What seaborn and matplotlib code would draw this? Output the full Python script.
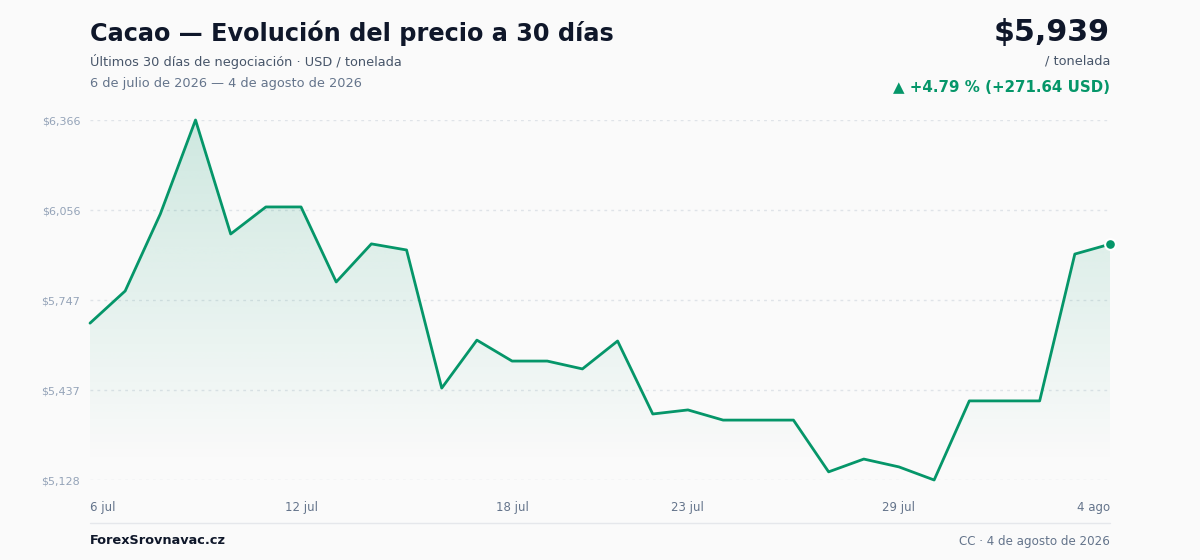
import numpy as np
import pandas as pd
import matplotlib
matplotlib.use("Agg")
import matplotlib.pyplot as plt
import seaborn as sns

# data (USD / tonelada, daily closes)
dates = pd.date_range("2026-07-06", "2026-08-04", freq="D")
prices = [5667.36, 5778, 6043, 6366, 5974, 6067, 6067, 5809, 5940, 5919,
          5444, 5609, 5537, 5537, 5510, 5606, 5355, 5369, 5334, 5334,
          5334, 5156, 5200, 5173, 5128, 5400, 5400, 5400, 5905, 5939]
tick_days = [0, 6, 12, 17, 23, 29]
tick_labels = ["6 jul", "12 jul", "18 jul", "23 jul", "29 jul", "4 ago"]

GREEN = "#059669"
BG = "#fafafa"

sns.set_theme(style="white")
plt.rcParams["font.family"] = ["DejaVu Sans"]

df = pd.DataFrame({"day": np.arange(len(prices)), "price": prices, "date": dates})
ymin, ymax = min(prices), max(prices)

fig = plt.figure(figsize=(12, 5.6), dpi=100, facecolor=BG)
ax = fig.add_axes([90 / 1200, 1 - 480 / 560, 1020 / 1200, 360 / 560])
ax.set_facecolor(BG)

# gradient fill under the line
fill_bottom = ymin + (ymax - ymin) * 15 / 360
grad = np.zeros((256, 2, 4))
rgb = matplotlib.colors.to_rgb(GREEN)
grad[..., 0], grad[..., 1], grad[..., 2] = rgb
grad[..., 3] = np.linspace(0.18, 0.0, 256)[:, None]
img = ax.imshow(grad, extent=[0, len(prices) - 1, fill_bottom, ymax], origin="upper",
                aspect="auto", zorder=1, interpolation="bicubic")
clip = matplotlib.path.Path(np.vstack([
    np.column_stack([df["day"], df["price"]]),
    [[len(prices) - 1, fill_bottom], [0, fill_bottom]]]))
img.set_clip_path(matplotlib.patches.PathPatch(clip, transform=ax.transData))

sns.lineplot(data=df, x="day", y="price", color=GREEN, lw=2, ax=ax, zorder=3, clip_on=False)
ax.scatter([df["day"].iloc[-1]], [df["price"].iloc[-1]], s=60, color=GREEN,
           edgecolor="white", linewidth=1.5, zorder=4, clip_on=False)

yticks = np.linspace(ymin, ymax, 5)
for yt in yticks:
    ax.axhline(yt, color="#dfe3e8", lw=1, ls=(0, (2, 3)), zorder=0)
ax.set_yticks(yticks)
ax.set_yticklabels([f"${int(v):,}" for v in yticks], color="#94a3b8", fontsize=8)
ax.set_xticks(tick_days)
ax.set_xticklabels(tick_labels, color="#64748b", fontsize=8.5)
labels = ax.get_xticklabels()
labels[0].set_ha("left")
labels[-1].set_ha("right")
ax.tick_params(axis="both", length=0)
ax.tick_params(axis="x", pad=15)
ax.tick_params(axis="y", pad=7)
ax.set_xlim(0, len(prices) - 1)
ax.set_ylim(ymin, ymax)
ax.set_xlabel("")
ax.set_ylabel("")
sns.despine(ax=ax, left=True, bottom=True)

# header
fig.text(90 / 1200, 1 - 33 / 560, "Cacao — Evolución del precio a 30 días", fontsize=17.3,
         fontweight="bold", color="#0f172a", va="center")
fig.text(90 / 1200, 1 - 61 / 560, "Últimos 30 días de negociación · USD / tonelada",
         fontsize=9.3, color="#475569", va="center")
fig.text(90 / 1200, 1 - 83 / 560, "6 de julio de 2026 — 4 de agosto de 2026",
         fontsize=9.3, color="#64748b", va="center")
last = prices[-1]
chg = last - prices[0]
pct = chg / prices[0] * 100
fig.text(1110 / 1200, 1 - 32 / 560, f"${last:,.0f}", fontsize=21.7, fontweight="bold",
         color="#0f172a", ha="right", va="center")
fig.text(1110 / 1200, 1 - 61 / 560, "/ tonelada", fontsize=9.3, color="#475569",
         ha="right", va="center")
fig.text(1110 / 1200, 1 - 87 / 560, f"▲ +{pct:.2f} % (+{chg:.2f} USD)", fontsize=10.8,
         fontweight="bold", color=GREEN, ha="right", va="center")

# footer
fig.add_artist(matplotlib.lines.Line2D([90 / 1200, 1110 / 1200], [1 - 523 / 560] * 2,
                                       color="#e5e7eb", lw=1))
fig.text(90 / 1200, 1 - 541 / 560, "ForexSrovnavac.cz", fontsize=9.3, fontweight="bold",
         color="#0f172a", va="center")
fig.text(1110 / 1200, 1 - 541 / 560, "CC · 4 de agosto de 2026", fontsize=8.6,
         color="#64748b", ha="right", va="center")

fig.savefig("out.png", dpi=100, facecolor=BG)
